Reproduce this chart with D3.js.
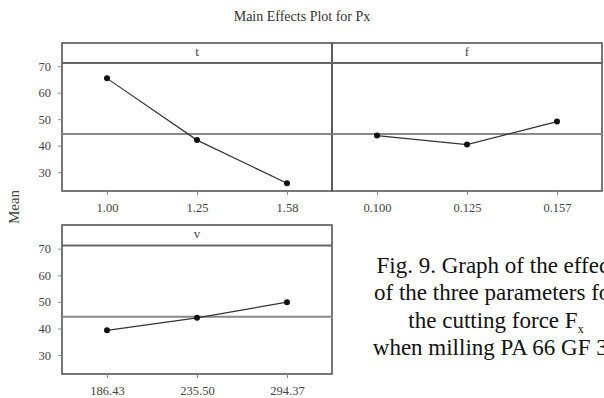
<!DOCTYPE html>
<html>
<head>
  <script src="https://d3js.org/d3.v7.min.js"></script>
  <style>
    body { margin: 0; background: #fff; }
    svg text { font-family: "Liberation Serif", "DejaVu Serif", serif; }
  </style>
</head>
<body>
  <div id="chart"></div>
  <script>
    // data
    const tLevels = ["1.00", "1.25", "1.58"];
    const tMeans = [65.4, 42.1, 25.8];
    const fLevels = ["0.100", "0.125", "0.157"];
    const fMeans = [43.8, 40.4, 49.1];
    const vLevels = ["186.43", "235.50", "294.37"];
    const vMeans = [39.3, 44.0, 49.9];
    const grandMean = 44.4;
    const yTicks = [30, 40, 50, 60, 70];
    const captionLines = ["Fig. 9. Graph of the effect", "of the three parameters for", "the cutting force F", "when milling PA 66 GF 30"];

    const width = 604, height = 398;
    const svg = d3.select("#chart").append("svg")
      .attr("width", width)
      .attr("height", height);

    // panel frames
    const panels = [
      { name: "t", levels: tLevels, means: tMeans, x0: 62, x1: 332, top: 43, strip: 63, bottom: 191 },
      { name: "f", levels: fLevels, means: fMeans, x0: 332, x1: 602, top: 43, strip: 63, bottom: 191 },
      { name: "v", levels: vLevels, means: vMeans, x0: 62, x1: 332, top: 225, strip: 245.5, bottom: 374 }
    ];

    svg.append("text")
      .attr("x", 302).attr("y", 21)
      .attr("text-anchor", "middle")
      .attr("font-size", 14)
      .attr("fill", "#333")
      .text("Main Effects Plot for Px");

    panels.forEach(p => {
      const g = svg.append("g");
      const x = d3.scalePoint().domain(p.levels).range([p.x0, p.x1]).padding(0.5);
      const y = d3.scaleLinear().domain([22.9, 71.2]).range([p.bottom, p.strip]);

      // frame
      g.append("rect")
        .attr("x", p.x0).attr("y", p.top)
        .attr("width", p.x1 - p.x0).attr("height", p.bottom - p.top)
        .attr("fill", "none").attr("stroke", "#555").attr("stroke-width", 1.6);

      // strip separator
      g.append("line")
        .attr("x1", p.x0).attr("x2", p.x1)
        .attr("y1", p.strip).attr("y2", p.strip)
        .attr("stroke", "#666").attr("stroke-width", 2);

      g.append("text")
        .attr("x", (p.x0 + p.x1) / 2).attr("y", p.top + 13)
        .attr("text-anchor", "middle")
        .attr("font-size", 13).attr("fill", "#444")
        .text(p.name);

      // grand mean reference
      g.append("line")
        .attr("x1", p.x0).attr("x2", p.x1)
        .attr("y1", y(grandMean)).attr("y2", y(grandMean))
        .attr("stroke", "#888").attr("stroke-width", 2);

      // x axis ticks
      const xAxis = d3.axisBottom(x).tickSize(4).tickPadding(8);
      const xg = g.append("g")
        .attr("transform", `translate(0,${p.bottom})`)
        .call(xAxis);
      xg.select(".domain").remove();
      xg.selectAll("line").attr("stroke", "#888");
      xg.selectAll("text")
        .attr("font-size", 12.5).attr("fill", "#444")
        .attr("font-family", "Liberation Serif, serif");

      // y axis ticks on the left panels
      if (p.x0 === 62) {
        const yAxis = d3.axisLeft(y).tickValues(yTicks).tickSize(4).tickPadding(7);
        const yg = g.append("g")
          .attr("transform", `translate(${p.x0},0)`)
          .call(yAxis);
        yg.select(".domain").remove();
        yg.selectAll("line").attr("stroke", "#888");
        yg.selectAll("text")
          .attr("font-size", 12.5).attr("fill", "#444")
          .attr("font-family", "Liberation Serif, serif");
      }

      // means line + points
      const pts = p.levels.map((l, i) => [x(l), y(p.means[i])]);
      g.append("path")
        .attr("d", d3.line()(pts))
        .attr("fill", "none").attr("stroke", "#333").attr("stroke-width", 1.2);
      g.selectAll("circle.pt").data(pts).join("circle")
        .attr("class", "pt")
        .attr("cx", d => d[0]).attr("cy", d => d[1])
        .attr("r", 3).attr("fill", "#111");
    });

    svg.append("text")
      .attr("transform", "translate(19,207) rotate(-90)")
      .attr("text-anchor", "middle")
      .attr("font-size", 15).attr("fill", "#444")
      .text("Mean");

    // caption (runs off the right edge, as in the source)
    const cap = svg.append("text")
      .attr("text-anchor", "middle")
      .attr("font-size", 23).attr("fill", "#111");
    captionLines.forEach((line, i) => {
      const ts = cap.append("tspan")
        .attr("x", 496).attr("y", 273 + i * 27.3)
        .text(line);
      if (i === 2) {
        ts.append("tspan").attr("font-size", 12).attr("dy", 5).text("x");
      }
    });
  </script>
</body>
</html>
